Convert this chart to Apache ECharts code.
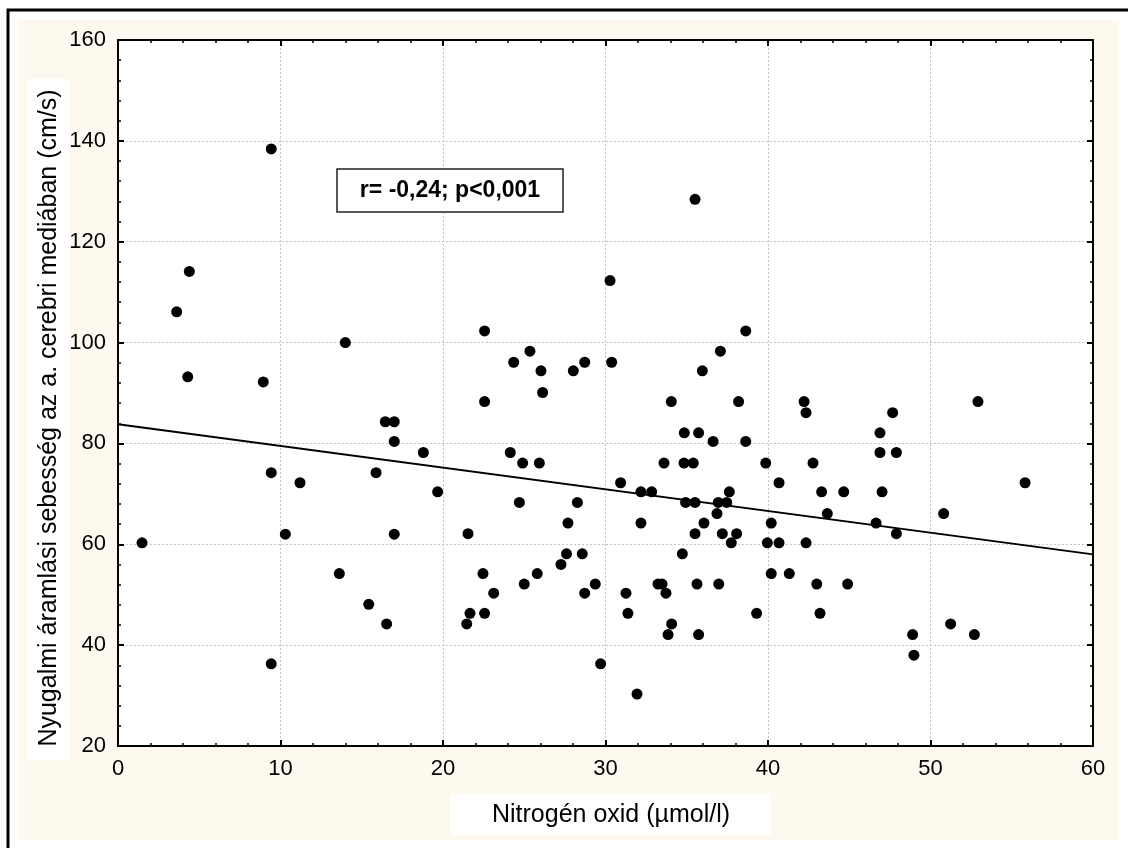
<!DOCTYPE html>
<html>
<head>
<meta charset="utf-8">
<script src="https://cdn.jsdelivr.net/npm/echarts@6/dist/echarts.min.js"></script>
<style>
  html, body { margin: 0; padding: 0; background: #fff; }
  #chart { width: 1128px; height: 848px; }
</style>
</head>
<body>
<div id="chart"></div>
<script>
// nitrogen oxide (µmol/l) vs. resting flow velocity (cm/s)
var noValues = [
  1.48, 3.61, 4.39, 4.29, 8.94, 9.43, 9.43, 9.43, 10.3, 11.2,
  13.62, 13.99, 15.43, 15.88, 16.45, 16.53, 17.0, 17.0, 17.0, 18.79,
  19.67, 21.46, 21.54, 21.66, 22.46, 22.56, 22.56, 22.56, 23.12, 24.14,
  24.35, 24.70, 24.9, 25.0, 25.35, 25.8, 25.93, 26.03, 26.13, 27.26,
  27.6, 27.69, 28.02, 28.27, 28.57, 28.72, 28.72, 29.37, 29.7, 30.28,
  30.38, 30.93, 31.26, 31.38, 31.94, 32.18, 32.18, 32.84, 33.23, 33.48,
  33.6, 33.72, 33.85, 34.05, 34.07, 34.73, 34.83, 34.85, 34.93, 35.4,
  35.51, 35.51, 35.51, 35.63, 35.73, 35.73, 35.96, 36.06, 36.62, 36.86,
  36.94, 36.97, 37.07, 37.19, 37.46, 37.62, 37.74, 38.07, 38.19, 38.63,
  38.63, 39.3, 39.86, 39.96, 40.2, 40.2, 40.68, 40.68, 41.31, 42.22,
  42.34, 42.34, 42.77, 43.0, 43.2, 43.3, 43.65, 44.66, 44.9, 46.65,
  46.89, 46.89, 47.02, 47.67, 47.9, 47.9, 48.9, 48.98, 50.81, 51.24,
  52.7, 52.92, 55.82
];
var velocity = [
  60.3, 106.1, 114.1, 93.2, 92.2, 138.4, 74.2, 36.3, 62.0, 72.2,
  54.2, 100.0, 48.1, 74.2, 84.3, 44.2, 84.3, 80.4, 62.0, 78.2,
  70.4, 44.2, 62.1, 46.3, 54.2, 102.3, 88.3, 46.3, 50.3, 78.2,
  96.1, 68.3, 76.1, 52.1, 98.3, 54.2, 76.1, 94.4, 90.1, 56.0,
  58.1, 64.2, 94.4, 68.3, 58.1, 96.1, 50.3, 52.1, 36.3, 112.3,
  96.1, 72.2, 50.3, 46.3, 30.3, 70.4, 64.2, 70.4, 52.1, 52.1,
  76.1, 50.3, 42.1, 88.3, 44.2, 58.1, 76.1, 82.1, 68.3, 76.1,
  128.4, 68.3, 62.1, 52.1, 82.1, 42.1, 94.4, 64.2, 80.4, 66.1,
  68.3, 52.1, 98.3, 62.1, 68.3, 70.4, 60.3, 62.1, 88.3, 102.3,
  80.4, 46.3, 76.1, 60.3, 64.2, 54.2, 72.2, 60.3, 54.2, 88.3,
  86.1, 60.3, 76.1, 52.1, 46.3, 70.4, 66.1, 70.4, 52.1, 64.2,
  82.1, 78.2, 70.4, 86.1, 78.2, 62.1, 42.1, 38.0, 66.1, 44.2,
  42.1, 88.3, 72.2
];
// regression line endpoints [x, y]
var fitLine = [[0, 83.8], [60, 58.0]];

var xTicks = [0, 10, 20, 30, 40, 50, 60];
var yTicks = [20, 40, 60, 80, 100, 120, 140, 160];
var statText = 'r= -0,24; p<0,001';
var xTitle = 'Nitrogén oxid (µmol/l)';
var yTitle = 'Nyugalmi áramlási sebesség az a. cerebri mediában (cm/s)';

var points = noValues.map(function (x, i) { return [x, velocity[i]]; });

var FONT = '"Liberation Sans", Arial, sans-serif';

function axisBase(pos, ticks, showLabel) {
  return {
    type: 'value',
    position: pos,
    min: ticks[0],
    max: ticks[ticks.length - 1],
    interval: ticks[1] - ticks[0],
    axisLine: { show: true, onZero: false, lineStyle: { color: '#000', width: 2 } },
    axisTick: { show: true, inside: true, length: 6, lineStyle: { color: '#000', width: 2 } },
    minorTick: { show: true, splitNumber: 5, length: 3, lineStyle: { color: '#000', width: 1.5 } },
    axisLabel: { show: showLabel, color: '#000', fontSize: 22, fontFamily: FONT, margin: 12 },
    splitLine: { show: showLabel, lineStyle: { color: '#c4c4c4', type: [2, 2], width: 1 } }
  };
}

var chart = echarts.init(document.getElementById('chart'));

var xMain = axisBase('bottom', xTicks, true);
var xTop = axisBase('top', xTicks, false);
var yMain = axisBase('left', yTicks, true);
var yRight = axisBase('right', yTicks, false);

chart.setOption({
  backgroundColor: '#fff',
  animation: false,
  grid: { left: 118, right: 35, top: 40, bottom: 102, show: true, backgroundColor: '#fff', borderWidth: 0 },
  xAxis: [xMain, xTop],
  yAxis: [yMain, yRight],
  graphic: [
    // cream panel and outer frame
    { type: 'rect', z: -10, shape: { x: 18, y: 20, width: 1101, height: 820 }, style: { fill: '#fef9ee' } },
    { type: 'rect', z: -9, shape: { x: 8, y: 10, width: 1140, height: 860 }, style: { fill: null, stroke: '#000', lineWidth: 3 } },
    // y title
    { type: 'rect', z: -5, shape: { x: 27, y: 79, width: 42, height: 681 }, style: { fill: '#fff' } },
    { type: 'text', x: 49, y: 418, rotation: Math.PI / 2,
      style: { text: yTitle, fill: '#000', font: '25px ' + FONT, textAlign: 'center', textVerticalAlign: 'middle' } },
    // x title
    { type: 'rect', z: -5, shape: { x: 451, y: 794, width: 320, height: 41 }, style: { fill: '#fff' } },
    { type: 'text', x: 611, y: 815,
      style: { text: xTitle, fill: '#000', font: '25px ' + FONT, textAlign: 'center', textVerticalAlign: 'middle' } },
    // stats box
    { type: 'rect', z: 10, shape: { x: 337, y: 169, width: 226, height: 43 }, style: { fill: '#fff', stroke: '#222', lineWidth: 1.5 } },
    { type: 'text', z: 11, x: 450, y: 191,
      style: { text: statText, fill: '#000', font: 'bold 23px ' + FONT, textAlign: 'center', textVerticalAlign: 'middle' } }
  ],
  series: [
    {
      type: 'line',
      data: fitLine,
      symbol: 'none',
      lineStyle: { color: '#000', width: 2 },
      z: 3
    },
    {
      type: 'scatter',
      data: points,
      symbol: 'circle',
      symbolSize: 11,
      itemStyle: { color: '#000', opacity: 1 },
      z: 4
    }
  ]
});
</script>
</body>
</html>
